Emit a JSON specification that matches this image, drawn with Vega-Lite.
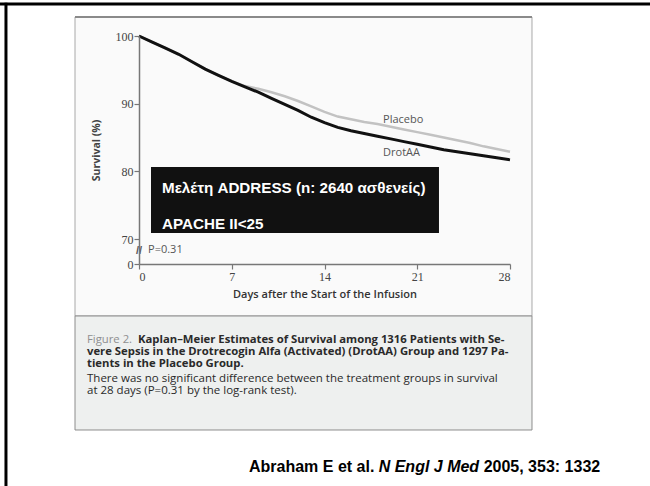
{
  "$schema": "https://vega.github.io/schema/vega-lite/v6.json",
  "width": 371,
  "height": 228,
  "autosize": {"type": "none"},
  "padding": {"left": 139, "top": 36, "right": 140, "bottom": 222},
  "background": "white",
  "config": {"view": {"stroke": null}},
  "datasets": {
    "km": [
      {"g":"DrotAA","day":0,"val":100},{"g":"DrotAA","day":1,"val":99.1},{"g":"DrotAA","day":2,"val":98.2},{"g":"DrotAA","day":3,"val":97.3},{"g":"DrotAA","day":4,"val":96.2},{"g":"DrotAA","day":5,"val":95.1},{"g":"DrotAA","day":6,"val":94.2},{"g":"DrotAA","day":7,"val":93.3},{"g":"DrotAA","day":8,"val":92.5},{"g":"DrotAA","day":9,"val":91.7},{"g":"DrotAA","day":10,"val":90.8},{"g":"DrotAA","day":11,"val":89.9},{"g":"DrotAA","day":12,"val":89.0},{"g":"DrotAA","day":13,"val":88.0},{"g":"DrotAA","day":14,"val":87.2},{"g":"DrotAA","day":15,"val":86.5},{"g":"DrotAA","day":16,"val":86.0},{"g":"DrotAA","day":17,"val":85.6},{"g":"DrotAA","day":18,"val":85.2},{"g":"DrotAA","day":19,"val":84.8},{"g":"DrotAA","day":20,"val":84.4},{"g":"DrotAA","day":21,"val":84.0},{"g":"DrotAA","day":22,"val":83.6},{"g":"DrotAA","day":23,"val":83.2},{"g":"DrotAA","day":24,"val":82.9},{"g":"DrotAA","day":25,"val":82.6},{"g":"DrotAA","day":26,"val":82.3},{"g":"DrotAA","day":27,"val":82.0},{"g":"DrotAA","day":28,"val":81.7},
      {"g":"Placebo","day":0,"val":100},{"g":"Placebo","day":1,"val":99.1},{"g":"Placebo","day":2,"val":98.2},{"g":"Placebo","day":3,"val":97.3},{"g":"Placebo","day":4,"val":96.2},{"g":"Placebo","day":5,"val":95.1},{"g":"Placebo","day":6,"val":94.2},{"g":"Placebo","day":7,"val":93.3},{"g":"Placebo","day":8,"val":92.6},{"g":"Placebo","day":9,"val":92.2},{"g":"Placebo","day":10,"val":91.7},{"g":"Placebo","day":11,"val":91.1},{"g":"Placebo","day":12,"val":90.4},{"g":"Placebo","day":13,"val":89.6},{"g":"Placebo","day":14,"val":88.8},{"g":"Placebo","day":15,"val":88.1},{"g":"Placebo","day":16,"val":87.7},{"g":"Placebo","day":17,"val":87.3},{"g":"Placebo","day":18,"val":87.0},{"g":"Placebo","day":19,"val":86.6},{"g":"Placebo","day":20,"val":86.2},{"g":"Placebo","day":21,"val":85.8},{"g":"Placebo","day":22,"val":85.4},{"g":"Placebo","day":23,"val":85.0},{"g":"Placebo","day":24,"val":84.6},{"g":"Placebo","day":25,"val":84.2},{"g":"Placebo","day":26,"val":83.7},{"g":"Placebo","day":27,"val":83.3},{"g":"Placebo","day":28,"val":82.9}
    ]
  },
  "layer": [
    {
      "data": {"values": [
        {"day": -10.49, "day2": 38.6, "val": 104.73, "val2": 104.73},
        {"day": -10.04, "day2": -10.04, "val": 104.9, "val2": 33.5}
      ]},
      "mark": {"type": "rule", "color": "black", "strokeWidth": 3},
      "encoding": {
        "x": {"field": "day", "type": "quantitative"},
        "x2": {"field": "day2"},
        "y": {"field": "val", "type": "quantitative"},
        "y2": {"field": "val2"}
      }
    },
    {
      "data": {"values": [
        {"box": "figure", "day": -4.83, "day2": 29.66, "val": 102.81, "val2": 58.64},
        {"box": "caption", "day": -4.83, "day2": 29.66, "val": 58.64, "val2": 41.8}
      ]},
      "mark": {"type": "rect", "strokeWidth": 1},
      "encoding": {
        "x": {"field": "day", "type": "quantitative"},
        "x2": {"field": "day2"},
        "y": {"field": "val", "type": "quantitative"},
        "y2": {"field": "val2"},
        "fill": {"field": "box", "type": "nominal", "scale": {"domain": ["figure", "caption"], "range": ["#fafafa", "#eef0ef"]}, "legend": null},
        "stroke": {"field": "box", "type": "nominal", "scale": {"domain": ["figure", "caption"], "range": ["#a8a8a8", "#8c8c8c"]}, "legend": null}
      }
    },
    {
      "data": {"values": [{"day": -4.83, "day2": 29.66, "val": 102.81}]},
      "mark": {"type": "rule", "color": "#8a8a8a", "strokeWidth": 2},
      "encoding": {
        "x": {"field": "day", "type": "quantitative"},
        "x2": {"field": "day2"},
        "y": {"field": "val", "type": "quantitative"}
      }
    },
    {
      "data": {"name": "km"},
      "transform": [{"filter": "datum.g == 'Placebo'"}],
      "mark": {"type": "line", "color": "#c2c2c2", "strokeWidth": 2.5},
      "encoding": {
        "x": {"field": "day", "type": "quantitative", "scale": {"domain": [0, 28], "nice": false, "zero": false},
          "axis": {"values": [0, 7, 14, 21, 28], "title": "Days after the Start of the Infusion", "titleFont": "Open Sans", "titleFontWeight": 600, "titleFontSize": 11, "titleColor": "#333", "labelFont": "Liberation Serif", "labelFontSize": 12, "labelColor": "#444", "domainColor": "#777", "domainWidth": 1.5, "tickColor": "#777", "tickWidth": 1.2, "tickSize": 5, "labelPadding": 2, "titlePadding": 6, "grid": false, "zindex": 1}},
        "y": {"field": "val", "type": "quantitative", "scale": {"domain": [66.32, 100], "nice": false, "zero": false},
          "axis": {"values": [66.32, 70, 80, 90, 100], "labelExpr": "datum.value < 67 ? '0' : format(datum.value, 'd')", "title": "Survival (%)", "titleFont": "Open Sans", "titleFontWeight": "bold", "titleFontSize": 10.5, "titleColor": "#444", "labelFont": "Liberation Serif", "labelFontSize": 12, "labelColor": "#444", "domainColor": "#777", "domainWidth": 1.5, "tickColor": "#777", "tickWidth": 1.2, "tickSize": 5, "labelPadding": 1, "titlePadding": 14, "grid": false, "zindex": 1}}
      }
    },
    {
      "data": {"name": "km"},
      "transform": [{"filter": "datum.g == 'DrotAA'"}],
      "mark": {"type": "line", "color": "#111111", "strokeWidth": 3},
      "encoding": {
        "x": {"field": "day", "type": "quantitative"},
        "y": {"field": "val", "type": "quantitative"}
      }
    },
    {
      "data": {"values": [{"day": 0.906, "day2": 22.64, "val": 80.65, "val2": 70.9}]},
      "mark": {"type": "rect", "color": "#111111"},
      "encoding": {
        "x": {"field": "day", "type": "quantitative"},
        "x2": {"field": "day2"},
        "y": {"field": "val", "type": "quantitative"},
        "y2": {"field": "val2"}
      }
    },
    {
      "data": {"values": [
        {"t": "Μελέτη ADDRESS (n: 2640 ασθενείς)", "day": 1.736, "val": 76.81},
        {"t": "APACHE II<25", "day": 1.736, "val": 71.49}
      ]},
      "mark": {"type": "text", "align": "left", "baseline": "alphabetic", "font": "Liberation Sans", "fontWeight": "bold", "fontSize": 15.2, "color": "white"},
      "encoding": {
        "x": {"field": "day", "type": "quantitative"},
        "y": {"field": "val", "type": "quantitative"},
        "text": {"field": "t"}
      }
    },
    {
      "data": {"values": [
        {"t": "Placebo", "day": 18.42, "val": 87.6},
        {"t": "DrotAA", "day": 18.42, "val": 82.7},
        {"t": "P=0.31", "day": 0.68, "val": 68.4}
      ]},
      "mark": {"type": "text", "align": "left", "baseline": "middle", "font": "Open Sans", "fontSize": 11, "color": "#555"},
      "encoding": {
        "x": {"field": "day", "type": "quantitative"},
        "y": {"field": "val", "type": "quantitative"},
        "text": {"field": "t"}
      }
    },
    {
      "data": {"values": [{"t": "//", "day": 0, "val": 68.2}]},
      "mark": {"type": "text", "align": "center", "baseline": "middle", "font": "Liberation Sans", "fontWeight": "bold", "fontSize": 11, "color": "#555"},
      "encoding": {
        "x": {"field": "day", "type": "quantitative"},
        "y": {"field": "val", "type": "quantitative"},
        "text": {"field": "t"}
      }
    },
    {
      "data": {"values": [
        {"t": "Figure 2.", "day": -3.925, "val": 55.16}
      ]},
      "mark": {"type": "text", "align": "left", "baseline": "middle", "font": "Open Sans", "fontSize": 11.3, "color": "#8f8f8f"},
      "encoding": {
        "x": {"field": "day", "type": "quantitative"},
        "y": {"field": "val", "type": "quantitative"},
        "text": {"field": "t"}
      }
    },
    {
      "data": {"values": [
        {"t": "Kaplan–Meier Estimates of Survival among 1316 Patients with Se-", "day": -0.075, "val": 55.16},
        {"t": "vere Sepsis in the Drotrecogin Alfa (Activated) (DrotAA) Group and 1297 Pa-", "day": -3.925, "val": 53.34},
        {"t": "tients in the Placebo Group.", "day": -3.925, "val": 51.53}
      ]},
      "mark": {"type": "text", "align": "left", "baseline": "middle", "font": "Open Sans", "fontSize": 11.3, "fontWeight": "bold", "color": "#2a2a2a"},
      "encoding": {
        "x": {"field": "day", "type": "quantitative"},
        "y": {"field": "val", "type": "quantitative"},
        "text": {"field": "t"}
      }
    },
    {
      "data": {"values": [
        {"t": "There was no significant difference between the treatment groups in survival", "day": -3.925, "val": 49.39},
        {"t": "at 28 days (P=0.31 by the log-rank test).", "day": -3.925, "val": 47.57}
      ]},
      "mark": {"type": "text", "align": "left", "baseline": "middle", "font": "Open Sans", "fontSize": 11.5, "color": "#2a2a2a"},
      "encoding": {
        "x": {"field": "day", "type": "quantitative"},
        "y": {"field": "val", "type": "quantitative"},
        "text": {"field": "t"}
      }
    },
    {
      "data": {"values": [
        {"t": "Abraham E et al.", "day": 8.3, "val": 35.59},
        {"t": "2005, 353: 1332", "day": 26.01, "val": 35.59}
      ]},
      "mark": {"type": "text", "align": "left", "baseline": "alphabetic", "font": "Liberation Sans", "fontWeight": "bold", "fontSize": 16, "color": "black"},
      "encoding": {
        "x": {"field": "day", "type": "quantitative"},
        "y": {"field": "val", "type": "quantitative"},
        "text": {"field": "t"}
      }
    },
    {
      "data": {"values": [
        {"t": "N Engl J Med", "day": 18.09, "val": 35.59}
      ]},
      "mark": {"type": "text", "align": "left", "baseline": "alphabetic", "font": "Liberation Sans", "fontWeight": "bold", "fontStyle": "italic", "fontSize": 16, "color": "black"},
      "encoding": {
        "x": {"field": "day", "type": "quantitative"},
        "y": {"field": "val", "type": "quantitative"},
        "text": {"field": "t"}
      }
    }
  ]
}
